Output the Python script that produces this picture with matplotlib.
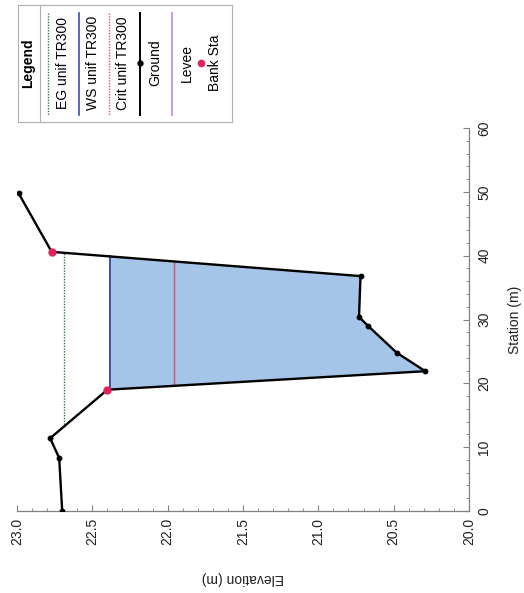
import numpy as np
import matplotlib
matplotlib.use('Agg')
import matplotlib.pyplot as plt
from matplotlib.ticker import MultipleLocator

plt.rcParams['font.family'] = ['Liberation Sans', 'DejaVu Sans']

# Cross section data (station m, elevation m)
ground_sta = [0.0, 8.3, 11.4, 19.0, 21.9, 24.8, 29.0, 30.4, 36.8, 40.6, 49.8]
ground_elev = [22.70, 22.72, 22.78, 22.40, 20.29, 20.48, 20.67, 20.73, 20.72, 22.77, 22.99]
bank_sta = [19.0, 40.6]
bank_elev = [22.40, 22.77]

ws_elev = 22.38    # WS unif TR300
crit_elev = 21.96  # Crit unif TR300
eg_elev = 22.69    # EG unif TR300

legend_labels = ['EG unif TR300', 'WS unif TR300', 'Crit unif TR300', 'Ground', 'Levee', 'Bank Sta']


def crossings(sta, elev, level):
    # stations where the ground line crosses a given level, walking the segments
    out = []
    for i in range(len(sta) - 1):
        e0, e1 = elev[i], elev[i + 1]
        if (e0 - level) * (e1 - level) <= 0 and e0 != e1:
            t = (level - e0) / (e1 - e0)
            out.append(sta[i] + t * (sta[i + 1] - sta[i]))
    return out


def wet_span(level):
    c = crossings(ground_sta, ground_elev, level)
    # channel low point at station 21.9 -> take crossings on either side of it
    left = max(s for s in c if s < 21.9)
    right = min(s for s in c if s > 21.9)
    return left, right


W, H = 524, 593
fig = plt.figure(figsize=(W / 100, H / 100), dpi=100)

# chart is drawn rotated: elevation runs horizontally (reversed), station vertically
ax = fig.add_axes([17 / W, 1 - 511 / H, 452 / W, 383 / H])

sta = np.array(ground_sta)
elev = np.array(ground_elev)

# water area
ws_l, ws_r = wet_span(ws_elev)
ax.fill_betweenx(sta, elev, ws_elev, where=elev <= ws_elev, interpolate=True,
                 color='#a4c4e8', linewidth=0, zorder=1)
ax.plot([ws_elev, ws_elev], [ws_l, ws_r], color='#3a4fb5', lw=1.4, zorder=3)

cr_l, cr_r = wet_span(crit_elev)
ax.plot([crit_elev, crit_elev], [cr_l, cr_r], color='#d9506a', lw=1.0, zorder=3)

eg_c = crossings(ground_sta, ground_elev, eg_elev)
eg_l = [s for s in eg_c if 11 < s < 21.9][0]
eg_r = [s for s in eg_c if s > 21.9][0]
ax.plot([eg_elev, eg_elev], [eg_l, eg_r], color='#3c7a3c', lw=1.0, ls=(0, (1, 1)), zorder=3)

ax.plot(ground_elev, ground_sta, color='black', lw=1.7, marker='o', ms=3.2, zorder=4)
ax.plot(bank_elev, bank_sta, 'o', color='#e0245a', ms=5, zorder=5)

ax.set_xlim(23.0, 20.0)
ax.set_ylim(0, 60)
ax.xaxis.set_major_locator(MultipleLocator(0.5))
ax.xaxis.set_minor_locator(MultipleLocator(0.1))
ax.yaxis.set_major_locator(MultipleLocator(10))
ax.yaxis.set_minor_locator(MultipleLocator(2))
ax.xaxis.set_major_formatter(matplotlib.ticker.FormatStrFormatter('%.1f'))

ax.spines['top'].set_visible(False)
ax.spines['left'].set_visible(False)
for sp in ['bottom', 'right']:
    ax.spines[sp].set_color('#808080')
    ax.spines[sp].set_linewidth(0.9)

ax.yaxis.tick_right()
ax.tick_params(which='both', direction='in', colors='#808080', labelcolor='#222222', labelsize=10)
ax.tick_params(which='major', length=4)
ax.tick_params(which='minor', length=2)
ax.tick_params(axis='x', labelrotation=90, pad=5)
ax.tick_params(axis='y', labelrotation=90, pad=6)
for lab in ax.get_yticklabels():
    lab.set_va('center')

fig.text(243 / W, 1 - 578 / H, 'Elevation (m)', rotation=180, ha='center', va='center',
         fontsize=10, color='#222222')
fig.text(515 / W, 1 - 320 / H, 'Station (m)', rotation=90, ha='center', va='center',
         fontsize=10, color='#222222')

# hand-built legend box (rotated like the rest of the chart)
lx0, ly0, lw, lh = 18, 5, 214, 117
lg = fig.add_axes([lx0 / W, 1 - (ly0 + lh) / H, lw / W, lh / H])
lg.set_xlim(0, lw)
lg.set_ylim(lh, 0)
lg.set_xticks([])
lg.set_yticks([])
for sp in lg.spines.values():
    sp.set_color('#b0b0b0')
    sp.set_linewidth(0.8)
lg.axvline(22, color='#b0b0b0', lw=0.8)
lg.text(10, 58, 'Legend', rotation=90, ha='center', va='center', fontsize=10, fontweight='bold')

y0, y1 = 8, 110
lg.plot([30, 30], [y0, y1], color='#3c7a3c', lw=1.0, ls=(0, (1, 1)))
lg.plot([61, 61], [y0, y1], color='#3a4fb5', lw=1.2)
lg.plot([91, 91], [y0, y1], color='#d9506a', lw=1.0, ls=(0, (1, 1)))
lg.plot([122, 122], [y0, y1], color='black', lw=1.4)
lg.plot([122], [58], 'o', color='black', ms=3.5)
lg.plot([154, 154], [y0, y1], color='#c58ad6', lw=1.2)
lg.plot([183], [58], 'o', color='#e0245a', ms=4.5)

text_x = [45, 75, 105, 137, 169, 197]
for x, t in zip(text_x, legend_labels):
    lg.text(x, 58, t, rotation=90, ha='center', va='center', fontsize=10)

fig.savefig('out.png', dpi=100)
